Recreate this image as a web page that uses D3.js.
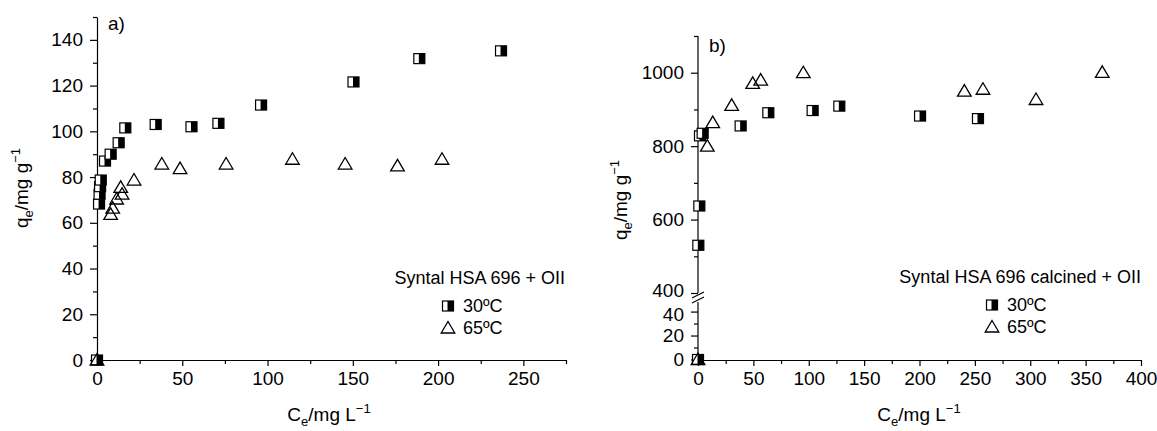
<!DOCTYPE html>
<html><head><meta charset="utf-8">
<script src="https://cdn.jsdelivr.net/npm/d3@7"></script>
<style>
html,body{margin:0;padding:0;background:#fff;}
svg{display:block;font-family:"Liberation Sans",Arial,Helvetica,sans-serif;}
</style></head>
<body>
<svg id="chart" width="1157" height="431"></svg>
<script>
// ---- Data: panel a) Syntal HSA 696 + OII ----
const a30_ce = [0, 1.2, 1.5, 1.8, 2.2, 4.7, 8.0, 12.7, 16.6, 34.4, 55.4, 71.2, 96.2, 150.4, 189, 236.9];
const a30_q  = [0, 68.2, 72.5, 75.8, 78.7, 87, 90, 95, 101.5, 103, 102, 103.5, 111.5, 121.6, 131.8, 135.2];
const a65_ce = [0, 8.0, 9.2, 11.5, 14.7, 13.9, 21.7, 38, 48.7, 75.7, 114.6, 145.5, 176.2, 202.3];
const a65_q  = [0, 63.7, 66.4, 70.4, 72.5, 75.5, 78.7, 85.7, 83.7, 85.7, 87.8, 85.7, 84.9, 87.8];
// ---- Data: panel b) Syntal HSA 696 calcined + OII ----
const b30_ce = [0, 0.3, 1.2, 1.8, 4.2, 38.5, 63.5, 103.5, 127.6, 200.5, 252.8];
const b30_q  = [0, 530, 637, 828, 835, 855, 891, 897, 909, 882, 875];
const b65_ce = [0, 8.4, 13.3, 30.4, 49.4, 56.6, 95.1, 240.5, 257.3, 305.2, 365];
const b65_q  = [0, 800, 864, 911, 971, 980, 1000, 950, 955, 927, 1001];

// ---- Tick values ----
const aXMajor = [0, 50, 100, 150, 200, 250];
const aXMinor = [25, 75, 125, 175, 225, 275];
const aYMajor = [0, 20, 40, 60, 80, 100, 120, 140];
const aYMinor = [10, 30, 50, 70, 90, 110, 130, 150];
const bXMajor = [0, 50, 100, 150, 200, 250, 300, 350, 400];
const bXMinor = [25, 75, 125, 175, 225, 275, 325, 375];
const bYMajor = [0, 20, 40, 400, 600, 800, 1000];
const bYMinor = [10, 30, 500, 700, 900, 1100];

const legendA = "Syntal HSA 696 + OII";
const legendB = "Syntal HSA 696 calcined + OII";
const seriesNames = ["30ºC", "65ºC"];

const svg = d3.select("#chart");
const FS = 19;     // tick labels and axis titles
const LFS = 18;    // legend text
const fmt = d3.format("d");

function zip(xs, ys){ return xs.map((x,i)=>({x:x, y:ys[i]})); }

function drawSquare(g, cx, cy){
  const w = 11, h = 10;
  g.append("rect").attr("x", cx - w/2).attr("y", cy - h/2).attr("width", w).attr("height", h)
    .attr("fill", "#fff").attr("stroke", "#000").attr("stroke-width", 1.2);
  g.append("rect").attr("x", cx - 0.5).attr("y", cy - h/2).attr("width", w/2 + 0.5).attr("height", h)
    .attr("fill", "#000");
}
function drawTri(g, cx, cy){
  g.append("path")
    .attr("d", `M${cx},${cy-6.5} L${cx+6.8},${cy+5} L${cx-6.8},${cy+5} Z`)
    .attr("fill", "none").attr("stroke", "#000").attr("stroke-width", 1.3);
}

function styleText(s){
  s.attr("font-size", null).attr("font-family", null);
  s.selectAll("text").attr("font-size", FS).attr("fill", "#000");
  s.selectAll("line,path").attr("stroke", "#000").attr("stroke-width", 1.2);
}
function xAxis(g, x, y0, major, minor){
  g.append("g").attr("transform", `translate(0,${y0})`)
    .call(d3.axisBottom(x).tickValues(major).tickFormat(fmt).tickSize(6).tickPadding(6).tickSizeOuter(0))
    .call(styleText);
  g.append("g").attr("transform", `translate(0,${y0})`)
    .call(d3.axisBottom(x).tickValues(minor).tickSize(4).tickFormat("").tickSizeOuter(0))
    .call(s => { s.select(".domain").remove(); s.selectAll("line").attr("stroke", "#000").attr("stroke-width", 1.2); });
}
function yAxisTicks(g, y, x0, major, minor, withDomain){
  const ga = g.append("g").attr("transform", `translate(${x0},0)`)
    .call(d3.axisLeft(y).tickValues(major).tickFormat(fmt).tickSize(7).tickPadding(7).tickSizeOuter(0))
    .call(styleText);
  if (!withDomain) ga.select(".domain").remove();
  g.append("g").attr("transform", `translate(${x0},0)`)
    .call(d3.axisLeft(y).tickValues(minor).tickSize(4).tickFormat("").tickSizeOuter(0))
    .call(s => { s.select(".domain").remove(); s.selectAll("line").attr("stroke", "#000").attr("stroke-width", 1.2); });
  return ga;
}

function xTitle(cx, cy){
  const t = svg.append("text").attr("x", cx).attr("y", cy).attr("text-anchor", "middle").attr("font-size", FS);
  t.append("tspan").text("C");
  t.append("tspan").attr("font-size", 13).attr("dy", 5).text("e");
  t.append("tspan").attr("dy", -5).text("/mg L");
  t.append("tspan").attr("font-size", 13).attr("dy", -8).text("−1");
}
function yTitle(cx, cy){
  const t = svg.append("text").attr("transform", `translate(${cx},${cy}) rotate(-90)`)
    .attr("text-anchor", "middle").attr("font-size", FS);
  t.append("tspan").text("q");
  t.append("tspan").attr("font-size", 13).attr("dy", 5).text("e");
  t.append("tspan").attr("dy", -5).text("/mg g");
  t.append("tspan").attr("font-size", 13).attr("dy", -8).text("−1");
}
function legend(title, rightX, ty, symX){
  svg.append("text").attr("x", rightX).attr("y", ty).attr("text-anchor", "end").attr("font-size", LFS).text(title);
  const g = svg.append("g");
  drawSquare(g, symX, ty + 22);
  drawTri(g, symX, ty + 44);
  svg.append("text").attr("x", symX + 15).attr("y", ty + 28).attr("font-size", LFS).text(seriesNames[0]);
  svg.append("text").attr("x", symX + 15).attr("y", ty + 50).attr("font-size", LFS).text(seriesNames[1]);
}

// ================= Panel a =================
const xa = d3.scaleLinear().domain([0, 275]).range([97, 566]);
const ya = d3.scaleLinear().domain([0, 150]).range([360, 17]);
const ga = svg.append("g");
xAxis(ga, xa, 360, aXMajor, aXMinor);
yAxisTicks(ga, ya, 97, aYMajor, aYMinor, true);
const ma = svg.append("g");
zip(a30_ce, a30_q).forEach(d => drawSquare(ma, xa(d.x), ya(d.y)));
zip(a65_ce, a65_q).forEach(d => drawTri(ma, xa(d.x), ya(d.y)));
svg.append("text").attr("x", 108).attr("y", 30).attr("font-size", FS).text("a)");
xTitle(329, 421);
yTitle(28, 188);
legend(legendA, 565, 284, 448);

// ================= Panel b =================
const xb = d3.scaleLinear().domain([0, 400]).range([698, 1141]);
const yb = d3.scaleLinear().domain([0, 48, 400, 1100]).range([359.5, 302, 293, 36]);
const gb = svg.append("g");
xAxis(gb, xb, 360, bXMajor, bXMinor);
const gby = yAxisTicks(gb, yb, 698, bYMajor, bYMinor, false);
// nudge the two labels at the axis break apart
gby.selectAll(".tick text").filter(d => d === 400).attr("dy", "0.2em");
gby.selectAll(".tick text").filter(d => d === 40).attr("dy", "0.45em");
// axis line in two segments with a break
gb.append("line").attr("x1", 698).attr("x2", 698).attr("y1", yb(0)).attr("y2", yb(48))
  .attr("stroke", "#000").attr("stroke-width", 1.2);
gb.append("line").attr("x1", 698).attr("x2", 698).attr("y1", yb(400)).attr("y2", yb(1100))
  .attr("stroke", "#000").attr("stroke-width", 1.2);
[yb(400) + 2, yb(48) - 2].forEach(yy => {
  gb.append("line").attr("x1", 692).attr("x2", 704).attr("y1", yy + 3).attr("y2", yy - 3)
    .attr("stroke", "#000").attr("stroke-width", 1.2);
});
const mb = svg.append("g");
zip(b30_ce, b30_q).forEach(d => drawSquare(mb, xb(d.x), yb(d.y)));
zip(b65_ce, b65_q).forEach(d => drawTri(mb, xb(d.x), yb(d.y)));
svg.append("text").attr("x", 709).attr("y", 52).attr("font-size", FS).text("b)");
xTitle(919, 421);
yTitle(627, 200);
legend(legendB, 1141, 283, 992);
</script>
</body></html>
